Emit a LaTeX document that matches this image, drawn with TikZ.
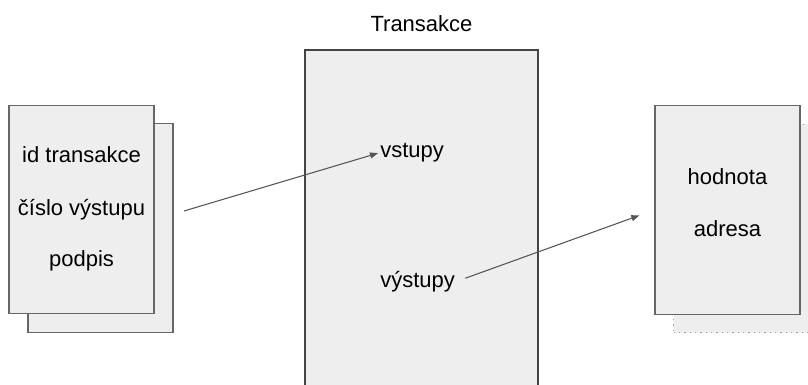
\documentclass[tikz,border=0pt]{standalone}
\usepackage{fontspec}
\setmainfont{Liberation Sans}
\usetikzlibrary{arrows.meta}
\definecolor{paper}{HTML}{EEEEEE}
\definecolor{edge}{HTML}{666666}
\definecolor{frame}{HTML}{444444}
\definecolor{faint}{HTML}{A0A0A0}
\definecolor{ink}{HTML}{555555}

\begin{document}
\begin{tikzpicture}[x=0.75pt, y=-0.75pt,
    every node/.style={font=\fontsize{16.5}{19}\selectfont, inner sep=1.5pt},
    sheet/.style={draw=edge, fill=paper, line width=0.9pt, inner sep=0pt,
                  minimum width=108.75pt, minimum height=156.5pt},
    ghost/.style={sheet, draw=faint, dash pattern=on 1pt off 3pt},
    tx/.style={draw=frame, fill=paper, line width=1pt, inner sep=0pt,
               minimum width=174.75pt, minimum height=262.5pt},
    ar/.style={-{Triangle[length=6pt, width=4.5pt]}, draw=ink, line width=0.8pt}]
  \path[use as bounding box, clip] (0,0) rectangle (808,385);

  % input: two stacked sheets
  \node[sheet] (inback) at (100.5,228) {};
  \node[sheet] (infront) at (81.5,209.5) {};
  \node[anchor=base] (txid) at (81.5,163) {id transakce};
  \node[anchor=base] (voutidx) at (81.5,215) {číslo výstupu};
  \node[anchor=base] (sig) at (81.5,267) {podpis};

  % the transaction itself
  \node[tx] (tx) at (421.5,225) {};
  \node[anchor=base] (txtitle) at (421.5,32) {Transakce};
  \node[anchor=base west] (vin) at (378,158) {vstupy};
  \node[anchor=base west] (vout) at (378,287) {výstupy};

  % output: sheet with a dotted one behind
  \node[ghost] (outback) at (746,228.5) {};
  \node[sheet] (outfront) at (727.5,210) {};
  \node[anchor=base] (amount) at (727.5,185) {hodnota};
  \node[anchor=base] (addr) at (727.5,237) {adresa};

  \coordinate (infrom) at (184,211);
  \draw[ar] (infrom) -- (vin.west);
  \draw[ar, shorten <=6.5pt, shorten >=12pt] (vout.east) -- (outfront.west);
\end{tikzpicture}
\end{document}
